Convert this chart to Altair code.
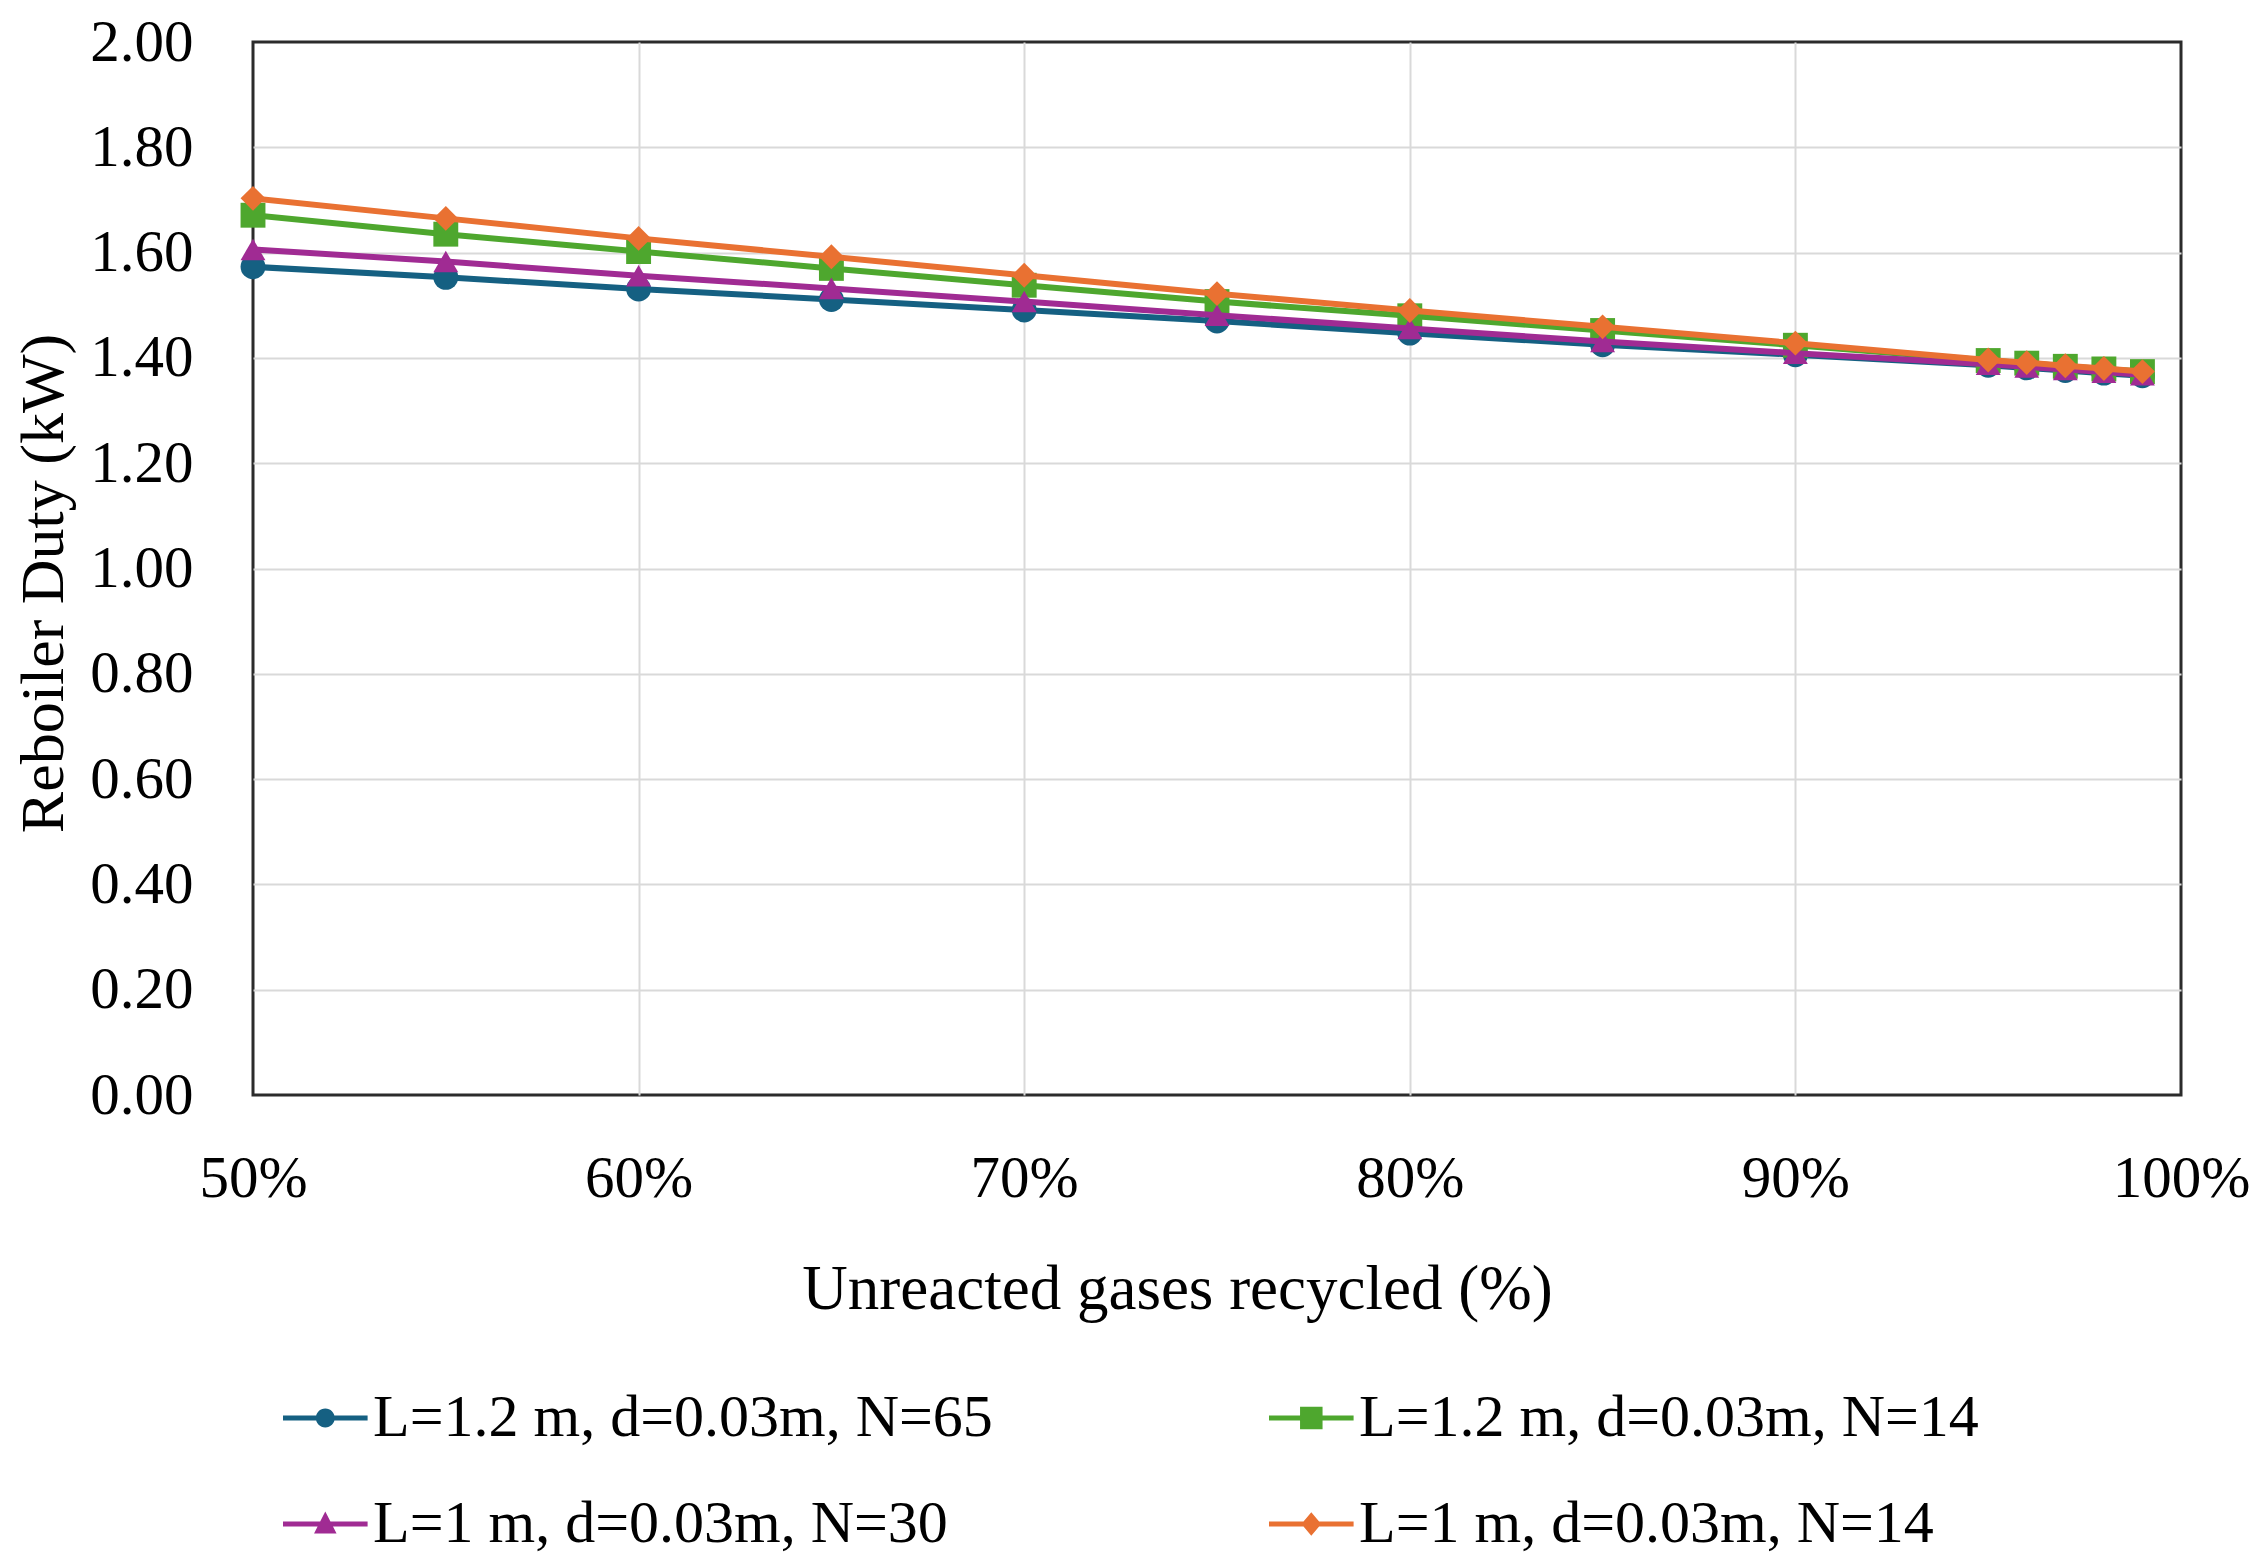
import altair as alt
import pandas as pd

# ---------------- data ----------------
recycled = [0.50, 0.55, 0.60, 0.65, 0.70, 0.75, 0.80, 0.85, 0.90, 0.95, 0.96, 0.97, 0.98, 0.99]

series_names = [
    "L=1.2 m, d=0.03m, N=65",
    "L=1.2 m, d=0.03m, N=14",
    "L=1 m, d=0.03m, N=30",
    "L=1 m, d=0.03m, N=14",
]

duty_L12_N65 = [1.573, 1.553, 1.531, 1.511, 1.491, 1.470, 1.447, 1.425, 1.406, 1.386, 1.381, 1.376, 1.371, 1.366]
duty_L12_N14 = [1.671, 1.635, 1.602, 1.570, 1.538, 1.507, 1.480, 1.452, 1.424, 1.395, 1.390, 1.384, 1.379, 1.374]
duty_L1_N30 = [1.606, 1.583, 1.556, 1.532, 1.507, 1.481, 1.456, 1.431, 1.409, 1.388, 1.383, 1.378, 1.373, 1.368]
duty_L1_N14 = [1.703, 1.665, 1.627, 1.592, 1.557, 1.522, 1.490, 1.459, 1.428, 1.396, 1.391, 1.385, 1.380, 1.374]

x_ticks = [0.5, 0.6, 0.7, 0.8, 0.9, 1.0]
y_ticks = [0.0, 0.2, 0.4, 0.6, 0.8, 1.0, 1.2, 1.4, 1.6, 1.8, 2.0]

all_series = [duty_L12_N65, duty_L12_N14, duty_L1_N30, duty_L1_N14]
rows = []
for name, vals in zip(series_names, all_series):
    for xv, yv in zip(recycled, vals):
        rows.append({"series": name, "recycled": xv, "duty": yv})
df = pd.DataFrame(rows)

# ---------------- styling ----------------
colors = ["#156082", "#4EA72E", "#A02B93", "#E97132"]
shapes = ["circle", "square", "triangle-up", "diamond"]

# legend symbols: a line with the series marker on it (unit = symbol radius)
LINE = "M-1,-0.28L8.4,-0.28L8.4,0.28L-1,0.28Z"
legend_paths = [
    LINE + "M4.75,0A1.05,1.05,0,1,1,2.65,0A1.05,1.05,0,1,1,4.75,0Z",
    LINE + "M2.45,-1.25L4.95,-1.25L4.95,1.25L2.45,1.25Z",
    LINE + "M3.7,-1.4L4.95,1.05L2.45,1.05Z",
    LINE + "M3.7,-1.3L4.8,0L3.7,1.3L2.6,0Z",
]

FONT = "Liberation Serif"

legend = alt.Legend(
    title=None,
    orient="none",
    direction="horizontal",
    legendX=9,
    legendY=1346,
    columns=2,
    columnPadding=255,
    rowPadding=46,
    labelFont=FONT,
    labelFontSize=60,
    labelColor="#000000",
    labelLimit=1500,
    labelOffset=51,
    symbolSize=324,
    symbolOpacity=1,
    symbolStrokeWidth=0,
)

x_enc = alt.X(
    "recycled:Q",
    scale=alt.Scale(domain=[0.5, 1.0], nice=False, zero=False),
    axis=alt.Axis(
        format=".0%",
        values=x_ticks,
        title="Unreacted gases recycled (%)",
        titleFontSize=63,
        titleX=924,
        labelPadding=54,
        titlePadding=50,
        labelFlush=False,
        labelOverlap=False,
        gridOpacity={"condition": {"test": "abs(datum.value - 0.5) < 0.0001 || abs(datum.value - 1.0) < 0.0001", "value": 0}, "value": 1},
    ),
)
y_enc = alt.Y(
    "duty:Q",
    scale=alt.Scale(domain=[0, 2], nice=False),
    axis=alt.Axis(
        format=".2f",
        values=y_ticks,
        title="Reboiler Duty (kW)",
        titleFontSize=62,
        titleY=541,
        labelPadding=60,
        titlePadding=14,
        labelOverlap=False,
        gridOpacity={"condition": {"test": "datum.value <= 0.0001 || datum.value >= 1.9999", "value": 0}, "value": 1},
    ),
)

base = alt.Chart(df)
layers = []
for name, shp, col in zip(series_names, shapes, colors):
    sub = base.transform_filter(alt.datum.series == name)
    layers.append(
        sub.mark_line(strokeWidth=6, color=col).encode(x=x_enc, y=y_enc)
    )
    layers.append(
        sub.mark_point(filled=True, shape=shp, size=620, opacity=1, strokeWidth=0, color=col).encode(
            x=x_enc, y=y_enc
        )
    )

# invisible layer that only supplies the legend (line + marker symbols)
legend_layer = base.mark_point(filled=True, opacity=0).encode(
    x=x_enc,
    y=y_enc,
    color=alt.Color("series:N", scale=alt.Scale(domain=series_names, range=colors), legend=legend),
    shape=alt.Shape(
        "series:N",
        scale=alt.Scale(domain=series_names, range=legend_paths),
        legend=legend,
    ),
)
layers.append(legend_layer)

chart = (
    alt.layer(*layers)
    .properties(
        width=1928,
        height=1053,
        padding={"left": 245, "top": 34, "right": 71, "bottom": 459},
        autosize=alt.AutoSizeParams(type="none"),
    )
    .configure_view(stroke="#2b2b2b", strokeWidth=3)
    .configure_axis(
        labelFont=FONT,
        labelFontSize=59,
        labelColor="#000000",
        titleFont=FONT,
        titleFontWeight="normal",
        titleColor="#000000",
        gridColor="#d9d9d9",
        gridWidth=2,
        domain=False,
        ticks=False,
        tickSize=0,
    )
)

chart.save("out.html", embed_options={"renderer": "svg", "actions": False})
